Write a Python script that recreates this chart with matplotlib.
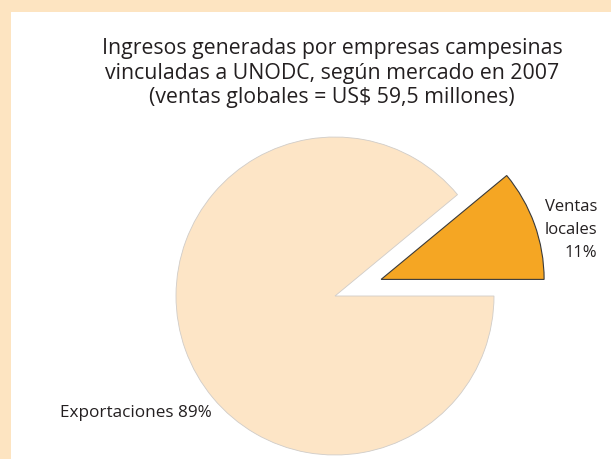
import matplotlib
matplotlib.use("Agg")
import matplotlib.pyplot as plt

# data
labels = ["Ventas\nlocales\n11%", "Exportaciones 89%"]
shares = [11, 89]
title = ("Ingresos generadas por empresas campesinas\n"
         "vinculadas a UNODC, según mercado en 2007\n"
         "(ventas globales = US$ 59,5 millones)")

BORDER = "#fde4c1"
PIE_COLORS = ["#f5a623", "#fde5c6"]
TEXT = "#231f20"

plt.rcParams['font.family'] = ['Open Sans', 'DejaVu Sans']

fig = plt.figure(figsize=(6.11, 4.60), dpi=100)
fig.patch.set_facecolor(BORDER)

# white panel, data units = pixels (y measured from bottom)
ax = fig.add_axes([11 / 611, 0, 600 / 611, 447 / 460])
ax.add_patch(plt.Rectangle((11, 0), 600, 447, color="white", zorder=0))

# explode is in data units here (pixels)
wedges, _ = ax.pie(shares, colors=PIE_COLORS, startangle=0, counterclock=True,
                   explode=[49, 0], center=(335, 163), radius=159,
                   frame=True)
# the detached slice is drawn a touch larger in the original
wedges[0].set_radius(163)
wedges[0].set_edgecolor("#3a3a3a")
wedges[0].set_linewidth(0.8)
wedges[1].set_edgecolor("#d0ccc8")
wedges[1].set_linewidth(0.6)
ax.set_xlim(11, 611)
ax.set_ylim(0, 447)
ax.set_aspect("equal")
ax.axis("off")

ax.text(332, 387, title, ha="center", va="center", fontsize=15.3,
        color=TEXT, linespacing=1.22)
ax.text(597, 230, labels[0], ha="right", va="center", fontsize=12,
        color=TEXT, multialignment="right", linespacing=1.6)
ax.text(60, 47, labels[1], ha="left", va="center", fontsize=12.3, color=TEXT)

fig.savefig("out.png", dpi=100, facecolor=BORDER)
